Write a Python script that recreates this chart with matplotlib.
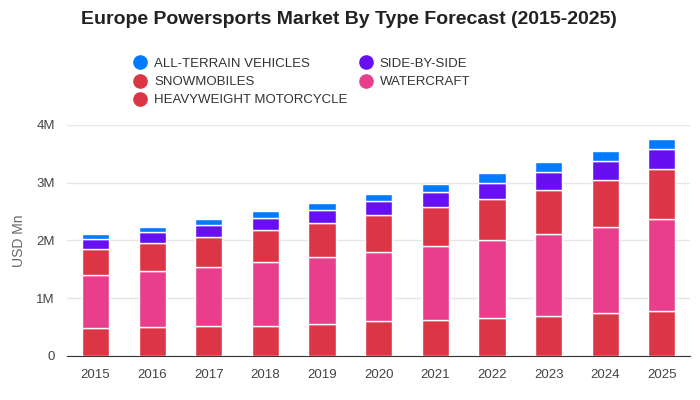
import matplotlib
matplotlib.use('Agg')
import matplotlib.pyplot as plt
from matplotlib.lines import Line2D
import numpy as np

plt.rcParams['font.family'] = ['Liberation Sans', 'DejaVu Sans']

years = ['2015', '2016', '2017', '2018', '2019', '2020', '2021', '2022', '2023', '2024', '2025']

# values in millions (stack order bottom -> top)
heavyweight = [0.489, 0.506, 0.524, 0.524, 0.558, 0.599, 0.627, 0.662, 0.696, 0.748, 0.783]
watercraft = [0.915, 0.967, 1.024, 1.105, 1.163, 1.202, 1.284, 1.352, 1.416, 1.485, 1.594]
snowmobiles = [0.449, 0.484, 0.512, 0.552, 0.581, 0.639, 0.667, 0.703, 0.760, 0.812, 0.858]
side_by_side = [0.167, 0.184, 0.208, 0.207, 0.225, 0.236, 0.259, 0.276, 0.311, 0.328, 0.345]
atv = [0.098, 0.098, 0.109, 0.127, 0.126, 0.133, 0.144, 0.167, 0.167, 0.178, 0.178]

c_blue = '#007bff'
c_indigo = '#6610f2'
c_red = '#dc3545'
c_pink = '#e83e8c'

series = [
    (heavyweight, c_red),
    (watercraft, c_pink),
    (snowmobiles, c_red),
    (side_by_side, c_indigo),
    (atv, c_blue),
]

fig = plt.figure(figsize=(7, 4), dpi=100)
ax = fig.add_axes([0.096, 0.11, 0.89, 0.578])

x = np.arange(len(years))
bottom = np.zeros(len(years))
for vals, col in series:
    vals = np.array(vals)
    ax.bar(x, vals, 0.48, bottom=bottom, color=col, edgecolor='white', linewidth=1, zorder=3)
    bottom += vals

ax.set_xlim(-0.5, len(years) - 0.5)
ax.set_ylim(0, 4.0)
ax.set_xticks(x)
ax.set_xticklabels(years)
ax.set_yticks([0, 1, 2, 3, 4])
ax.set_yticklabels(['0', '1M', '2M', '3M', '4M'])
ax.tick_params(axis='both', length=0, labelsize=9.5, colors='#444444', pad=9)
ax.grid(axis='y', color='#e6e6e6', linewidth=1, zorder=0)
for s in ['top', 'right', 'left']:
    ax.spines[s].set_visible(False)
ax.spines['bottom'].set_color('#333333')
ax.set_ylabel('USD Mn', fontsize=10, color='#666666', labelpad=7)

fig.text(0.499, 0.952, 'Europe Powersports Market By Type Forecast (2015-2025)',
         ha='center', va='center', fontsize=14, fontweight='bold', color='#222222')

labels = ['ALL-TERRAIN VEHICLES', 'SNOWMOBILES', 'HEAVYWEIGHT MOTORCYCLE', 'SIDE-BY-SIDE', 'WATERCRAFT']
cols = [c_blue, c_red, c_red, c_indigo, c_pink]
handles = [Line2D([], [], marker='o', linestyle='none', markersize=9.5, color=c) for c in cols]
fig.legend(handles, labels, ncol=2, loc='upper left', bbox_to_anchor=(0.174, 0.885),
           frameon=False, fontsize=9.5, handletextpad=0.55, columnspacing=0.9,
           labelspacing=0.45, handlelength=1.0, labelcolor='#333333')

fig.savefig('out.png', dpi=100)
